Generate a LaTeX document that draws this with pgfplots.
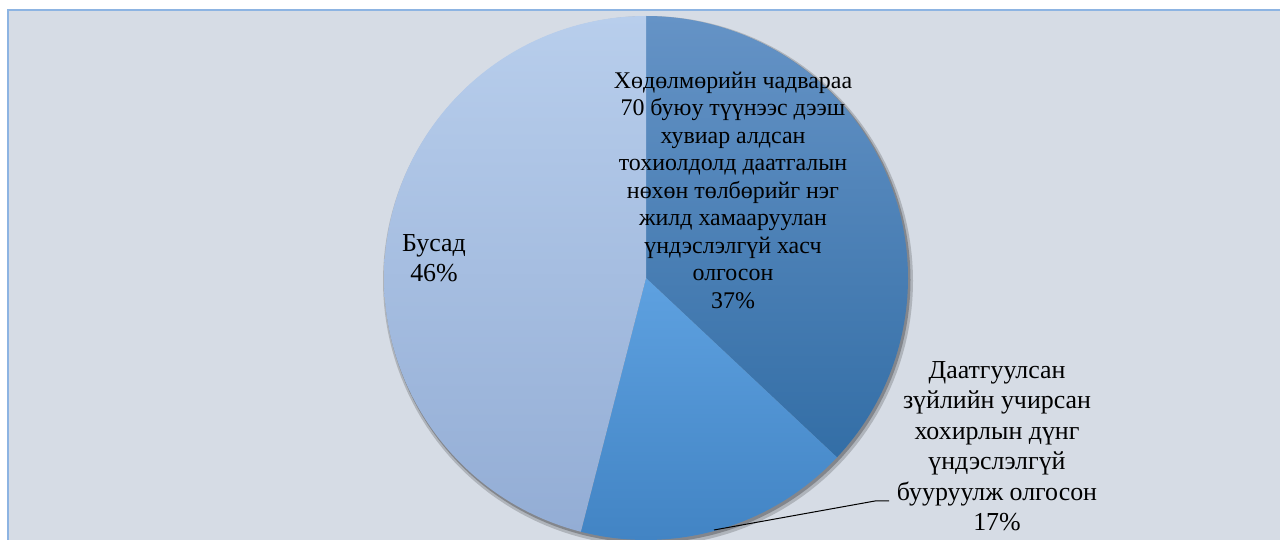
\documentclass[border=0pt]{standalone}
\usepackage{pgfplots}
\usepackage{pgfplotstable}
\pgfplotsset{compat=1.18}
\usepackage{fontspec}
\setmainfont{Liberation Serif}
\definecolor{bgc}{HTML}{D6DCE5}
\definecolor{framec}{HTML}{8DB4E2}
\definecolor{sAtop}{HTML}{6593C6}
\definecolor{sAbot}{HTML}{336EA6}
\definecolor{sBtop}{HTML}{5EA1E0}
\definecolor{sBbot}{HTML}{4284C4}
\definecolor{sCtop}{HTML}{B8CEEC}
\definecolor{sCbot}{HTML}{93ADD5}

\pgfplotstableread{
slice value
A 37
B 17
C 46
}\piedata
\pgfplotstablegetelem{0}{value}\of\piedata \let\va\pgfplotsretval
\pgfplotstablegetelem{1}{value}\of\piedata \let\vb\pgfplotsretval
\pgfplotstablegetelem{2}{value}\of\piedata \let\vc\pgfplotsretval
\pgfmathsetmacro\aA{90-3.6*\va}
\pgfmathsetmacro\aB{\aA-3.6*\vb}
\pgfmathsetmacro\aC{\aB-3.6*\vc}

\begin{document}
\begin{tikzpicture}
\begin{axis}[
  scale only axis, width=1280bp, height=540bp,
  xmin=0, xmax=1280, ymin=0, ymax=540,
  hide axis, clip=true,
]
\coordinate (ll) at (axis cs:0,0);
\coordinate (ur) at (axis cs:1280,540);
% background and frame
\fill[bgc] (axis cs:7,0) rectangle (axis cs:1280,530);
\draw[framec, line width=2bp] (axis cs:7.5,0) -- (axis cs:7.5,529.5) -- (axis cs:1280,529.5);
% shadow
\addplot[draw=none, fill=black, fill opacity=0.18, domain=0:360, samples=180, variable=\t]
  ({648+265*cos(\t)},{259+265*sin(\t)}) -- cycle;
\addplot[draw=none, fill=black, fill opacity=0.25, domain=0:360, samples=180, variable=\t]
  ({647.5+263*cos(\t)},{260+263*sin(\t)}) -- cycle;
% slices
\addplot[draw=none, top color=sAtop, bottom color=sAbot, domain=\aA:90, samples=100, variable=\t]
  ({646+262*cos(\t)},{262+262*sin(\t)}) -- (axis cs:646,262) -- cycle;
\addplot[draw=none, top color=sBtop, bottom color=sBbot, domain=\aB:\aA, samples=60, variable=\t]
  ({646+262*cos(\t)},{262+262*sin(\t)}) -- (axis cs:646,262) -- cycle;
\addplot[draw=none, top color=sCtop, bottom color=sCbot, domain=\aC:\aB, samples=120, variable=\t]
  ({646+262*cos(\t)},{262+262*sin(\t)}) -- (axis cs:646,262) -- cycle;
% leader line
\draw[black, line width=1bp] (axis cs:714,10) -- (axis cs:875,39) -- (axis cs:889,39);
% labels
\node[align=center, font=\fontsize{24}{27.6}\selectfont] at (axis cs:733,350)
  {Хөдөлмөрийн чадвараа\\70 буюу түүнээс дээш\\хувиар алдсан\\тохиолдолд даатгалын\\нөхөн төлбөрийг нэг\\жилд хамааруулан\\үндэслэлгүй хасч\\олгосон\\\fontsize{24}{34}\selectfont 37\%};
\node[align=center, font=\fontsize{26}{30.6}\selectfont] at (axis cs:997,94)
  {Даатгуулсан\\зүйлийн учирсан\\хохирлын дүнг\\үндэслэлгүй\\бууруулж олгосон\\17\%};
\node[align=center, font=\fontsize{26}{30.6}\selectfont] at (axis cs:434,282)
  {Бусад\\46\%};
\end{axis}
\pgfresetboundingbox
\useasboundingbox (ll) rectangle (ur);
\end{tikzpicture}
\end{document}
